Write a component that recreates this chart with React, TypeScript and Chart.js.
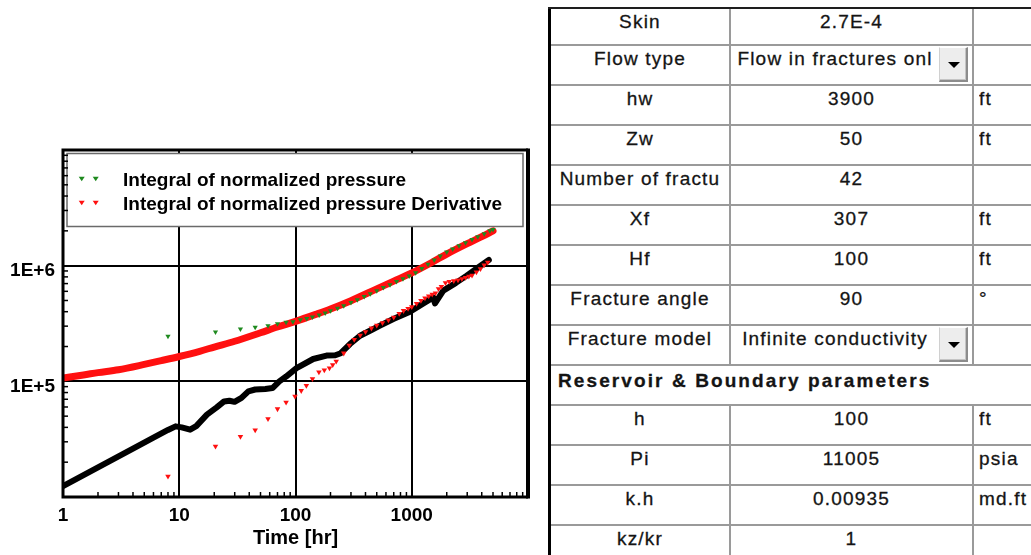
import React, { useEffect, useRef } from "react";
import { Chart, registerables } from "chart.js";

Chart.register(...registerables);

const FONT = '"Liberation Sans", Arial, Helvetica, sans-serif';

// ---- axis ticks ----
const xTickValues = [1, 10, 100, 1000, 10000];
const xTickLabels = ["1", "10", "100", "1000", ""];
const yTickValues = [1e4, 1e5, 1e6, 1e7];
const yTickLabels = ["", "1E+5", "1E+6", ""];
const xTitle = "Time [hr]";

const seriesNames = [
  "Integral of normalized pressure",
  "Integral of normalized pressure Derivative",
];

// ---- green: integral of normalized pressure (points) ----
const pressureTime = [8, 20.5, 33.6, 45, 58, 70, 83, 95, 110, 125, 140, 160, 180, 200, 230, 260, 300, 340, 390, 440, 500, 570, 650, 740, 840, 950, 1080, 1220, 1380, 1560, 1760, 2000, 2250, 2550, 2900, 3300, 3700, 4200, 4700, 5000];
const pressureValue = [2.45e5, 2.67e5, 2.83e5, 2.93e5, 3.03e5, 3.15e5, 3.25e5, 3.28e5, 3.4e5, 3.5e5, 3.6e5, 3.75e5, 3.89e5, 4.07e5, 4.29e5, 4.5e5, 4.8e5, 5.08e5, 5.4e5, 5.71e5, 6.08e5, 6.46e5, 6.85e5, 7.29e5, 7.72e5, 8.15e5, 8.7e5, 9.45e5, 1.03e6, 1.12e6, 1.215e6, 1.31e6, 1.395e6, 1.49e6, 1.58e6, 1.685e6, 1.78e6, 1.89e6, 2.0e6, 2.05e6];

// ---- red: derivative (points) ----
const derivTime = [8, 20.5, 33.6, 45, 58, 70, 83, 99, 112, 124, 140, 159, 177, 196, 209, 224, 260, 290, 320, 360, 400, 450, 500, 560, 630, 700, 780, 850, 930, 1000, 1100, 1200, 1300, 1400, 1500, 1600, 1700, 1800, 1950, 2100, 2300, 2500, 2700, 2900, 3100, 3300, 3600, 3900, 4200, 4500];
const derivValue = [1.51e4, 2.74e4, 3.33e4, 3.79e4, 4.75e4, 5.77e4, 6.58e4, 7.42e4, 8.3e4, 9.2e4, 1.05e5, 1.2e5, 1.25e5, 1.3e5, 1.39e5, 1.49e5, 1.75e5, 2.05e5, 2.3e5, 2.5e5, 2.68e5, 2.88e5, 3.05e5, 3.2e5, 3.38e5, 3.58e5, 3.85e5, 4.08e5, 4.25e5, 4.4e5, 4.7e5, 5.0e5, 5.25e5, 5.45e5, 5.65e5, 5.8e5, 6.3e5, 6.6e5, 7.1e5, 7.3e5, 7.4e5, 7.5e5, 7.7e5, 7.9e5, 8.1e5, 8.25e5, 8.8e5, 9.4e5, 1.01e6, 1.07e6];

// ---- red dense model curve (integral of normalized pressure) ----
const modelPressureTime = [1, 1.5, 2, 3, 5, 7, 10, 15, 20, 30, 50, 70, 100, 150, 200, 300, 500, 700, 1000, 1500, 2000, 3000, 4000, 5000];
const modelPressureValue = [1.07e5, 1.135e5, 1.19e5, 1.26e5, 1.4e5, 1.51e5, 1.64e5, 1.82e5, 1.98e5, 2.22e5, 2.63e5, 2.95e5, 3.3e5, 3.8e5, 4.22e5, 4.98e5, 6.3e5, 7.35e5, 8.65e5, 1.07e6, 1.26e6, 1.55e6, 1.78e6, 2.0e6];

// ---- black model derivative ----
const modelDerivTime = [1, 2, 4, 6, 8, 9.3, 10.5, 12.4, 14, 17.3, 21, 24.3, 27, 29.9, 34.3, 39.3, 45, 55, 63.4, 72.6, 83, 102, 142, 185, 220, 245, 294, 359, 450, 533, 694, 966, 1259, 1533, 1585, 1868, 2400, 2970, 3700, 4600];
const modelDerivValue = [1.24e4, 1.8e4, 2.62e4, 3.26e4, 3.8e4, 4.08e4, 4.0e4, 3.82e4, 4.1e4, 5.15e4, 5.95e4, 6.7e4, 6.8e4, 6.65e4, 7.2e4, 8.2e4, 8.5e4, 8.6e4, 8.75e4, 1.0e5, 1.1e5, 1.3e5, 1.56e5, 1.67e5, 1.68e5, 1.75e5, 2.1e5, 2.48e5, 2.78e5, 3.03e5, 3.46e5, 4.0e5, 4.72e5, 5.32e5, 4.72e5, 6.08e5, 7.1e5, 8.2e5, 9.6e5, 1.12e6];

// ---- parameter table ----
const paramNames = ["Skin", "Flow type", "hw", "Zw", "Number of fractu", "Xf", "Hf", "Fracture angle", "Fracture model", "Reservoir & Boundary parameters", "h", "Pi", "k.h", "kz/kr"];
const paramValues = ["2.7E-4", "Flow in fractures onl", "3900", "50", "42", "307", "100", "90", "Infinite conductivity", "", "100", "11005", "0.00935", "1"];
const paramUnits = ["", "", "ft", "ft", "", "ft", "ft", "°", "", "", "ft", "psia", "md.ft", ""];
const dropdownRows = [1, 8];
const sectionRows = [9];

const GREEN = "#1f8a1f";
const RED = "#ff1010";

const pts = (xs: number[], ys: number[]) => xs.map((x, i) => ({ x, y: ys[i] }));

function downTriangle(ctx: CanvasRenderingContext2D, x: number, y: number, r: number) {
  ctx.beginPath();
  ctx.moveTo(x - r, y - r * 0.6);
  ctx.lineTo(x + r, y - r * 0.6);
  ctx.lineTo(x, y + r * 0.9);
  ctx.closePath();
  ctx.fill();
}

const legendBoxPlugin = {
  id: "legendBox",
  beforeDatasetsDraw(chart: any) {
    const { ctx, chartArea } = chart;
    const x0 = chartArea.left + 4;
    const y0 = chartArea.top + 3.5;
    const x1 = chartArea.right - 5;
    const y1 = chartArea.top + 76.5;
    ctx.save();
    ctx.fillStyle = "#fff";
    ctx.fillRect(x0, y0, x1 - x0, y1 - y0);
    ctx.strokeStyle = "#6a6a6a";
    ctx.lineWidth = 1.5;
    ctx.strokeRect(x0, y0, x1 - x0, y1 - y0);
    const colors = [GREEN, RED];
    const rows = [32, 56];
    ctx.font = `bold 19px ${FONT}`;
    ctx.textBaseline = "alphabetic";
    ctx.textAlign = "left";
    seriesNames.forEach((name, i) => {
      const by = y0 + rows[i];
      ctx.fillStyle = colors[i];
      downTriangle(ctx, x0 + 14.7, by - 7, 3);
      downTriangle(ctx, x0 + 28.7, by - 7, 3);
      ctx.fillStyle = "#000";
      ctx.fillText(name, x0 + 56, by);
    });
    ctx.restore();
  },
};

const framePlugin = {
  id: "frame",
  afterDatasetsDraw(chart: any) {
    const { ctx, chartArea, scales } = chart;
    const { left, right, top, bottom } = chartArea;
    ctx.save();
    ctx.strokeStyle = "#000";
    ctx.lineWidth = 1.5;
    for (let d = 0; d < 4; d++) {
      for (let k = 2; k <= 9; k++) {
        const px = scales.x.getPixelForValue(k * Math.pow(10, d));
        ctx.beginPath();
        ctx.moveTo(px, bottom);
        ctx.lineTo(px, bottom - 5);
        ctx.stroke();
      }
    }
    for (let d = 4; d < 7; d++) {
      for (let k = 2; k <= 9; k++) {
        const py = scales.y.getPixelForValue(k * Math.pow(10, d));
        ctx.beginPath();
        ctx.moveTo(left, py);
        ctx.lineTo(left + 5, py);
        ctx.stroke();
      }
    }
    ctx.lineWidth = 3;
    ctx.beginPath();
    ctx.moveTo(left, top);
    ctx.lineTo(left, bottom);
    ctx.lineTo(right, bottom);
    ctx.moveTo(left - 1.5, top);
    ctx.lineTo(right, top);
    ctx.stroke();
    ctx.lineWidth = 4;
    ctx.beginPath();
    ctx.moveTo(right, top - 1.5);
    ctx.lineTo(right, bottom + 1.5);
    ctx.stroke();
    ctx.restore();
  },
};

function ChartPanel() {
  const ref = useRef<HTMLCanvasElement>(null);
  useEffect(() => {
    if (!ref.current) return;
    const chart = new Chart(ref.current, {
      type: "scatter",
      data: {
        datasets: [
          {
            label: seriesNames[0],
            data: pts(pressureTime, pressureValue),
            pointStyle: "triangle",
            rotation: 180,
            pointRadius: 3,
            borderWidth: 0,
            backgroundColor: GREEN,
            showLine: false,
          },
          {
            label: seriesNames[1],
            data: pts(derivTime, derivValue),
            pointStyle: "triangle",
            rotation: 180,
            pointRadius: 3.2,
            borderWidth: 0,
            backgroundColor: RED,
            showLine: false,
          },
          {
            label: "model pressure",
            data: pts(modelPressureTime, modelPressureValue),
            showLine: true,
            borderColor: RED,
            borderWidth: 7,
            borderCapStyle: "round",
            cubicInterpolationMode: "monotone",
            pointRadius: 0,
          },
          {
            label: "model derivative",
            data: pts(modelDerivTime, modelDerivValue),
            showLine: true,
            borderColor: "#000",
            borderWidth: 6,
            borderCapStyle: "round",
            borderJoinStyle: "round",
            pointRadius: 0,
          },
        ],
      } as any,
      options: {
        responsive: false,
        animation: false,
        devicePixelRatio: 1,
        layout: { padding: { top: 150, right: 20, left: 0, bottom: 0 } },
        plugins: { legend: { display: false }, tooltip: { enabled: false } },
        scales: {
          x: {
            type: "logarithmic",
            min: 1,
            max: 10000,
            afterBuildTicks: (s: any) => {
              s.ticks = xTickValues.map((v) => ({ value: v }));
            },
            afterFit: (s: any) => {
              s.height = 58;
            },
            grid: { color: "#000", lineWidth: 2, drawTicks: false },
            border: { display: false },
            ticks: {
              color: "#000",
              font: { family: FONT, size: 19, weight: "bold" },
              padding: 7,
              maxRotation: 0,
              autoSkip: false,
              callback: (v: any) => {
                const i = xTickValues.indexOf(Number(v));
                return i >= 0 ? xTickLabels[i] : "";
              },
            },
            title: {
              display: true,
              text: xTitle,
              color: "#000",
              font: { family: FONT, size: 20, weight: "bold" },
              padding: { top: 0, bottom: 5 },
            },
          },
          y: {
            type: "logarithmic",
            min: 1e4,
            max: 1e7,
            afterBuildTicks: (s: any) => {
              s.ticks = yTickValues.map((v) => ({ value: v }));
            },
            afterFit: (s: any) => {
              s.width = 63;
            },
            grid: { color: "#000", lineWidth: 2, drawTicks: false },
            border: { display: false },
            ticks: {
              color: "#000",
              font: { family: FONT, size: 19, weight: "bold" },
              padding: 8,
              labelOffset: 5,
              autoSkip: false,
              callback: (v: any) => {
                const i = yTickValues.indexOf(Number(v));
                return i >= 0 ? yTickLabels[i] : "";
              },
            },
          },
        },
      } as any,
      plugins: [legendBoxPlugin, framePlugin],
    });
    return () => chart.destroy();
  }, []);
  return (
    <canvas
      ref={ref}
      width={548}
      height={555}
      style={{ position: "absolute", left: 0, top: 0, width: 548, height: 555 }}
    />
  );
}

const TFONT = '"Liberation Sans", Arial, Helvetica, sans-serif';
const LINE = "#9a9a9a";
const TEXT = "#141414";

function ParamTable() {
  const els: any[] = [];
  const L = 548;
  const colA = 551;
  const colB = 729;
  const colC = 972;
  const W = 1031;
  const H = 555;
  els.push(<div key="lb" style={{ position: "absolute", left: L, top: 7, width: 3, height: H - 7, background: "#000" }} />);
  paramNames.forEach((name, i) => {
    const top = i === 0 ? 7 : 44 + 40 * (i - 1);
    const bottom = i === paramNames.length - 1 ? H : 44 + 40 * i;
    const isSection = sectionRows.includes(i);
    const isDrop = dropdownRows.includes(i);
    if (!isSection) {
      els.push(<div key={"vb" + i} style={{ position: "absolute", left: colB, top, width: 2, height: bottom - top, background: LINE }} />);
      els.push(<div key={"vc" + i} style={{ position: "absolute", left: colC, top, width: 2, height: bottom - top, background: LINE }} />);
    }
    els.push(
      <div
        key={"hb" + i}
        style={{ position: "absolute", left: i === 0 ? L : colA, top, width: W - (i === 0 ? L : colA), height: 2, background: i === 0 ? "#1e1e1e" : LINE }}
      />
    );
    const textBase: any = {
      position: "absolute",
      top: top + 1,
      height: 28,
      lineHeight: "28px",
      fontFamily: TFONT,
      fontSize: 19,
      color: TEXT,
      whiteSpace: "nowrap",
      overflow: "hidden",
      letterSpacing: "1.2px",
      WebkitTextStroke: "0.3px " + TEXT,
    };
    if (isSection) {
      els.push(
        <div key={"s" + i} style={{ ...textBase, top: top + 3, left: 558, width: 460, fontWeight: "bold", letterSpacing: "2.1px" }}>
          {name}
        </div>
      );
      return;
    }
    els.push(
      <div key={"n" + i} style={{ ...textBase, left: colA, width: colB - colA, textAlign: "center" }}>
        {name}
      </div>
    );
    els.push(
      <div key={"v" + i} style={{ ...textBase, left: colB + 2, width: (isDrop ? 939 : colC) - colB - 2, textAlign: "center" }}>
        {paramValues[i]}
      </div>
    );
    if (paramUnits[i]) {
      els.push(
        <div key={"u" + i} style={{ ...textBase, left: 979, width: W - 979 + 20, textAlign: "left" }}>
          {paramUnits[i]}
        </div>
      );
    }
    if (isDrop) {
      els.push(
        <div
          key={"d" + i}
          style={{
            position: "absolute",
            left: 939,
            top: top + 3,
            width: 29,
            height: 35,
            boxSizing: "border-box",
            background: "#ededed",
            borderTop: "1px solid #ffffff",
            borderLeft: "1px solid #d0d0d0",
            borderRight: "2px solid #8c8c8c",
            borderBottom: "2px solid #8c8c8c",
            boxShadow: "inset -1px -1px 0 #c4c4c4",
          }}
        >
          <div
            style={{
              position: "absolute",
              left: 8,
              top: 14,
              width: 0,
              height: 0,
              borderLeft: "6px solid transparent",
              borderRight: "6px solid transparent",
              borderTop: "6px solid #000",
            }}
          />
        </div>
      );
    }
  });
  return <>{els}</>;
}

export default function App() {
  return (
    <div
      style={{
        position: "fixed",
        left: 0,
        top: 0,
        width: 1031,
        height: 555,
        overflow: "hidden",
        background: "#fff",
      }}
    >
      <ChartPanel />
      <ParamTable />
    </div>
  );
}
